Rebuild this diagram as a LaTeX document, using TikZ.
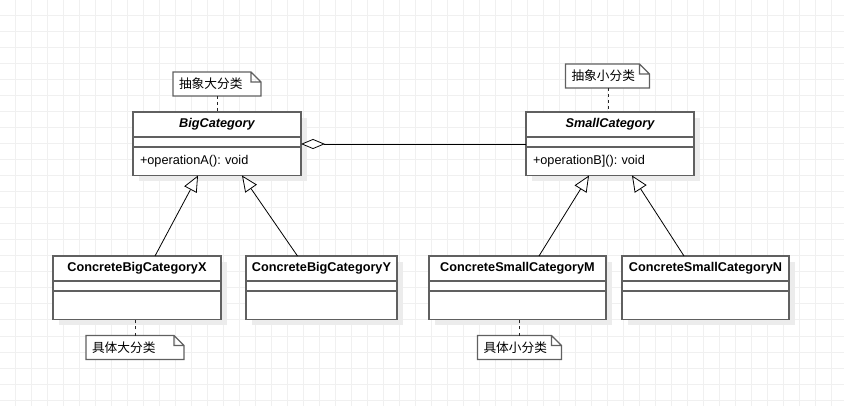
\documentclass[tikz,border=0pt]{standalone}
\usepackage{fontspec}
\setmainfont{Liberation Sans}
\newfontfamily\cjk{Noto Sans CJK SC}
\usepackage{tikz}
\usetikzlibrary{positioning,arrows.meta,shadows,calc}
\definecolor{boxrule}{RGB}{96,96,96}
\definecolor{gridline}{RGB}{240,240,240}
\definecolor{shade}{RGB}{236,236,236}
\frenchspacing
\tikzset{
  boxshadow/.style={drop shadow={shadow xshift=6pt,shadow yshift=-6pt,fill=shade,opacity=1}},
  classhead/.style={rectangle,draw=boxrule,line width=1.3pt,fill=white,boxshadow,minimum width=#1,minimum height=25pt,inner sep=0pt,outer sep=0pt,font=\bfseries},
  classattr/.style={rectangle,draw=boxrule,line width=1.3pt,fill=white,boxshadow,minimum width=#1,minimum height=10pt,inner sep=0pt,outer sep=0pt},
  classops/.style={rectangle,draw=boxrule,line width=1.3pt,fill=white,boxshadow,minimum width=#1,minimum height=28.5pt,inner sep=0pt,inner xsep=7pt,outer sep=0pt,align=left},
  memo/.style={rectangle,text width=#1,align=left,inner xsep=6pt,inner ysep=0pt,minimum height=24pt,outer sep=0pt,font=\cjk,
    append after command={\pgfextra{\draw[boxrule,fill=white,line width=1.2pt,line join=miter]
      (\tikzlastnode.south west) -- (\tikzlastnode.north west) -- ([xshift=-10pt]\tikzlastnode.north east)
      -- ([yshift=-10pt]\tikzlastnode.north east) -- (\tikzlastnode.south east) -- cycle
      ([xshift=-10pt]\tikzlastnode.north east) -- ([xshift=-10pt,yshift=-10pt]\tikzlastnode.north east)
      -- ([yshift=-10pt]\tikzlastnode.north east);}}},
  memolink/.style={draw=black!85,line width=1pt,dash pattern=on 3pt off 3pt},
  inherit/.style={-{Triangle[open,length=16pt,width=14pt,fill=white]},line width=0.8pt},
  aggregate/.style={-{Diamond[open,length=24pt,width=10pt,fill=white]},line width=0.8pt}
}
\begin{document}
\begin{tikzpicture}[x=1pt,y=-1pt,node font=\fontsize{12.7}{15}\selectfont]
  \useasboundingbox (0,0) rectangle (844,406);
  \foreach \gx in {15,31,...,847} \draw[gridline,line width=1pt] (\gx,0) -- (\gx,406);
  \foreach \gy in {0,16,...,400} \draw[gridline,line width=1pt] (0,\gy) -- (844,\gy);
  \node[classhead=168pt,font=\bfseries\itshape] (big) at (217,124.5) {BigCategory};
  \node[classattr=168pt,below=0pt of big] (bigattr) {};
  \node[classops=168pt,text width=154pt,below=0pt of bigattr] (bigops) {+operationA(): void};
  \node[classhead=168pt,font=\bfseries\itshape] (small) at (610,124.5) {SmallCategory};
  \node[classattr=168pt,below=0pt of small] (smallattr) {};
  \node[classops=168pt,text width=154pt,below=0pt of smallattr] (smallops) {+operationB](): void};
  \node[classhead=168pt] (bigx) at (137,268.5) {ConcreteBigCategoryX};
  \node[classattr=168pt,below=0pt of bigx] (bigxattr) {};
  \node[classops=168pt,below=0pt of bigxattr] (bigxops) {};
  \node[classhead=151pt,right=25pt of bigx] (bigy) {ConcreteBigCategoryY};
  \node[classattr=151pt,below=0pt of bigy] (bigyattr) {};
  \node[classops=151pt,below=0pt of bigyattr] (bigyops) {};
  \node[classhead=177pt,right=32pt of bigy] (smallm) {ConcreteSmallCategoryM};
  \node[classattr=177pt,below=0pt of smallm] (smallmattr) {};
  \node[classops=177pt,below=0pt of smallmattr] (smallmops) {};
  \node[classhead=167pt,right=16pt of smallm] (smalln) {ConcreteSmallCategoryN};
  \node[classattr=167pt,below=0pt of smalln] (smallnattr) {};
  \node[classops=167pt,below=0pt of smallnattr] (smallnops) {};
  \node[memo=76pt,above=16pt of big] (bignote) {抽象大分类};
  \node[memo=72pt,above=24pt of small,xshift=-2.5pt] (smallnote) {抽象小分类};
  \node[memo=86pt,below=16pt of bigxops,xshift=-2pt] (bigxnote) {具体大分类};
  \node[memo=72pt,below=16pt of smallmops,xshift=2pt] (smallmnote) {具体小分类};
  \draw[memolink] (bignote.south) -- (bignote.south |- big.north);
  \draw[memolink] ([xshift=1pt]smallnote.south) -- ([xshift=1pt]smallnote.south |- small.north);
  \draw[memolink] (bigxnote.north) -- (bigxnote.north |- bigxops.south);
  \draw[memolink] (smallmnote.north) -- (smallmnote.north |- smallmops.south);
  \draw[inherit] ([xshift=18pt]bigx.north) -- ([xshift=-19pt]bigops.south);
  \draw[inherit] ([xshift=-24pt]bigy.north) -- ([xshift=25pt]bigops.south);
  \draw[inherit] ([xshift=21.5pt]smallm.north) -- ([xshift=-21pt]smallops.south);
  \draw[inherit] ([xshift=-21.5pt]smalln.north) -- ([xshift=22pt]smallops.south);
  \draw[aggregate] ([yshift=-2pt]smallattr.west) -- ([yshift=-2pt]bigattr.east);
\end{tikzpicture}
\end{document}
